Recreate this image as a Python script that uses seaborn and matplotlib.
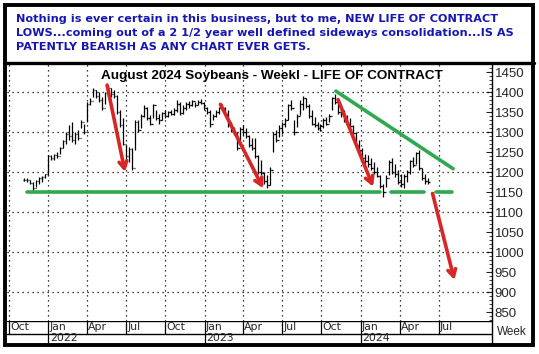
import matplotlib
matplotlib.use("Agg")
import matplotlib.pyplot as plt
import matplotlib.dates as mdates
from matplotlib.patches import Rectangle
from matplotlib.lines import Line2D
import numpy as np
import pandas as pd
import seaborn as sns

# weekly bars, Aug 2024 soybeans (cents/bu)
start_week = "2021-11-05"
highs = [1187, 1185, 1181, 1177, 1181, 1189, 1191, 1197, 1243, 1243,
         1247, 1251, 1264, 1282, 1301, 1318, 1326, 1301, 1306, 1331,
         1322, 1377, 1385, 1410, 1406, 1402, 1389, 1402, 1416, 1410,
         1407, 1393, 1356, 1335, 1268, 1264, 1260, 1331, 1331, 1347,
         1368, 1364, 1343, 1372, 1356, 1347, 1352, 1356, 1354, 1356,
         1360, 1382, 1377, 1368, 1377, 1379, 1382, 1377, 1381, 1384,
         1377, 1364, 1356, 1347, 1356, 1364, 1370, 1364, 1356, 1326,
         1314, 1301, 1314, 1318, 1310, 1293, 1285, 1285, 1243, 1231,
         1202, 1193, 1214, 1301, 1306, 1318, 1327, 1335, 1372, 1382,
         1331, 1347, 1381, 1391, 1387, 1372, 1356, 1339, 1327, 1322,
         1335, 1339, 1347, 1389, 1397, 1381, 1368, 1356, 1343, 1335,
         1318, 1301, 1281, 1260, 1247, 1243, 1235, 1227, 1214, 1193,
         1172, 1193, 1231, 1235, 1222, 1206, 1197, 1197, 1206, 1231,
         1239, 1252, 1256, 1210, 1197, 1185]
lows = [1179, 1177, 1171, 1154, 1164, 1171, 1177, 1185, 1193, 1231,
        1232, 1237, 1247, 1262, 1272, 1281, 1276, 1272, 1281, 1310,
        1297, 1326, 1368, 1389, 1387, 1377, 1356, 1372, 1391, 1389,
        1385, 1347, 1314, 1268, 1231, 1227, 1206, 1256, 1301, 1310,
        1339, 1331, 1318, 1335, 1331, 1322, 1331, 1337, 1339, 1343,
        1343, 1351, 1343, 1347, 1356, 1362, 1366, 1364, 1368, 1371,
        1357, 1347, 1314, 1332, 1339, 1346, 1356, 1343, 1314, 1301,
        1293, 1256, 1281, 1293, 1285, 1264, 1256, 1235, 1197, 1193,
        1172, 1160, 1168, 1251, 1277, 1289, 1297, 1314, 1331, 1356,
        1293, 1314, 1343, 1356, 1360, 1335, 1318, 1314, 1306, 1304,
        1310, 1318, 1327, 1356, 1372, 1347, 1339, 1327, 1318, 1310,
        1293, 1264, 1251, 1231, 1222, 1214, 1206, 1197, 1189, 1160,
        1139, 1164, 1193, 1197, 1189, 1172, 1164, 1160, 1177, 1197,
        1214, 1222, 1206, 1181, 1172, 1171]
closes = [1182, 1180, 1174, 1160, 1178, 1186, 1188, 1195, 1240, 1236,
          1244, 1240, 1260, 1278, 1295, 1290, 1280, 1296, 1286, 1325,
          1300, 1372, 1378, 1405, 1392, 1380, 1360, 1398, 1410, 1395,
          1390, 1350, 1318, 1272, 1240, 1258, 1212, 1325, 1305, 1342,
          1360, 1335, 1322, 1368, 1335, 1330, 1348, 1340, 1350, 1346,
          1355, 1372, 1348, 1362, 1372, 1368, 1378, 1368, 1376, 1374,
          1360, 1350, 1320, 1340, 1352, 1360, 1362, 1347, 1318, 1305,
          1298, 1262, 1308, 1300, 1290, 1268, 1262, 1240, 1202, 1198,
          1178, 1168, 1205, 1295, 1282, 1310, 1320, 1330, 1368, 1360,
          1300, 1340, 1372, 1385, 1366, 1340, 1322, 1318, 1310, 1315,
          1330, 1322, 1342, 1385, 1376, 1352, 1345, 1330, 1322, 1315,
          1298, 1268, 1255, 1236, 1228, 1220, 1210, 1200, 1192, 1165,
          1150, 1185, 1225, 1200, 1195, 1176, 1170, 1192, 1202, 1228,
          1218, 1248, 1210, 1185, 1178, 1175]

# annotations drawn on the chart
support_level = 1150
support_segments = [("2021-11-11", "2024-02-15"), ("2024-03-12", "2024-05-27"),
                    ("2024-06-25", "2024-08-02")]
trend_dates = ["2023-11-04", "2024-08-04"]
trend_prices = [1403, 1209]
arrow_starts = [("2022-05-18", 1418), ("2023-02-07", 1370), ("2023-11-09", 1382), ("2024-06-17", 1147)]
arrow_ends = [("2022-06-29", 1201), ("2023-05-18", 1160), ("2024-01-30", 1164), ("2024-08-07", 931)]

y_ticks = list(range(850, 1451, 50))
grid_prices = list(range(900, 1401, 100))
month_ticks = ["2021-10-01", "2022-01-01", "2022-04-01", "2022-07-01", "2022-10-01",
               "2023-01-01", "2023-04-01", "2023-07-01", "2023-10-01",
               "2024-01-01", "2024-04-01", "2024-07-01"]
month_labels = ["Oct", "Jan", "Apr", "Jul", "Oct", "Jan", "Apr", "Jul", "Oct", "Jan", "Apr", "Jul"]
year_ticks = ["2022-01-01", "2023-01-01", "2024-01-01"]
year_labels = ["2022", "2023", "2024"]

headline = ("Nothing is ever certain in this business, but to me, NEW LIFE OF CONTRACT\n"
            "LOWS...coming out of a 2 1/2 year well defined sideways consolidation...IS AS\n"
            "PATENTLY BEARISH AS ANY CHART EVER GETS.")
title = "August 2024 Soybeans - Weekl - LIFE OF CONTRACT"

sns.set_style("white")
plt.rcParams["font.family"] = ["Liberation Sans", "DejaVu Sans"]

W, H = 539, 354
fig = plt.figure(figsize=(W / 100, H / 100), dpi=100)


def fx(px):
    return px / W


def fy(py):
    return 1 - py / H


# price pane
ax = fig.add_axes([fx(7), fy(320.5), fx(492 - 7), fy(64) - fy(320.5)])
df = pd.DataFrame({"date": pd.date_range(start_week, periods=len(highs), freq="7D"),
                   "high": highs, "low": lows, "close": closes})
df["open"] = df["close"].shift(1).fillna(df["close"])
d = mdates.date2num(df["date"])
half = 3.2

ax.vlines(d, df["low"], df["high"], color="black", lw=0.9, zorder=3)
ax.hlines(df["open"], d - half, d, color="black", lw=0.9, zorder=3)
ax.hlines(df["close"], d, d + half, color="black", lw=0.9, zorder=3)

green = "#2eaa4e"
red = "#d82626"
for a, b in support_segments:
    seg = pd.DataFrame({"date": pd.to_datetime([a, b]), "price": [support_level] * 2})
    sns.lineplot(data=seg, x="date", y="price", color=green, lw=2.6, ax=ax, zorder=4)
trend = pd.DataFrame({"date": pd.to_datetime(trend_dates), "price": trend_prices})
sns.lineplot(data=trend, x="date", y="price", color=green, lw=2.6, ax=ax, zorder=4)

for (sd, sp), (ed, ep) in zip(arrow_starts, arrow_ends):
    ax.annotate("", xy=(mdates.date2num(pd.Timestamp(ed)), ep),
                xytext=(mdates.date2num(pd.Timestamp(sd)), sp),
                arrowprops=dict(arrowstyle="->,head_length=0.5,head_width=0.28",
                                color=red, lw=2.6, shrinkA=0, shrinkB=0), zorder=5)

ax.set_xlim(pd.Timestamp("2021-09-26"), pd.Timestamp("2024-11-03"))
ax.set_ylim(829.5, 1470.75)
ax.set_xlabel("")
ax.set_ylabel("")

for p in grid_prices:
    ax.axhline(p, color="black", lw=0.9, ls=(0, (1, 3)), zorder=1)
for m in month_ticks:
    ax.axvline(pd.Timestamp(m), color="black", lw=0.9, ls=(0, (1, 3)), zorder=1)

ax.yaxis.tick_right()
ax.set_yticks(y_ticks)
ax.set_yticklabels([str(v) for v in y_ticks])
ax.set_yticks(list(range(830, 1471, 10)), minor=True)
ax.tick_params(axis="y", which="major", direction="in", length=4, width=0.8,
               labelsize=9.5, pad=2, right=True, left=False)
ax.tick_params(axis="y", which="minor", direction="in", length=2, width=0.6,
               right=True, left=False)
ax.set_xticks([])
for s in ["top", "left", "bottom"]:
    ax.spines[s].set_visible(False)
ax.spines["right"].set_linewidth(1.0)
ax.spines["right"].set_color("black")

ax.text((272 - 7) / 485, 0.952, title, transform=ax.transAxes, ha="center", va="center",
        fontsize=9.7, fontweight="bold", color="black", zorder=6)

# date strip under the price pane
axd = fig.add_axes([fx(7), fy(343), fx(492 - 7), fy(320.5) - fy(343)])
axd.set_xlim(ax.get_xlim())
axd.set_ylim(0, 1)
axd.axis("off")
row = 13 / 22.5
axd.axhline(1, color="black", lw=1.0)
axd.axhline(1 - row, color="black", lw=1.0)
for m, lab in zip(month_ticks, month_labels):
    xm = mdates.date2num(pd.Timestamp(m))
    axd.plot([xm, xm], [1 - row, 1], color="black", lw=0.9)
    axd.text(xm + 3, 1 - row / 2, lab, ha="left", va="center", fontsize=7.8,
             family=["DejaVu Sans"])
for yv, lab in zip(year_ticks, year_labels):
    xm = mdates.date2num(pd.Timestamp(yv))
    axd.plot([xm, xm], [0, 1 - row], color="black", lw=0.9)
    axd.text(xm + 3, (1 - row) / 2, lab, ha="left", va="center", fontsize=7.8,
             family=["DejaVu Sans"])

fig.add_artist(Line2D([fx(492), fx(492)], [fy(320.5), fy(344)], color="black", lw=1.0))
fig.text(fx(512), fy(332), "Week", ha="center", va="center", fontsize=8.5)

# frame and headline
fig.add_artist(Rectangle((fx(5.25), fy(344.5)), fx(533 - 5.25), fy(4.5) - fy(344.5),
                         fill=False, edgecolor="black", lw=2.8, transform=fig.transFigure))
fig.add_artist(Line2D([fx(4), fx(534)], [fy(62.5), fy(62.5)], color="black", lw=2.4))
fig.text(fx(16), fy(33), headline, ha="left", va="center", fontsize=8.1,
         fontweight="bold", color="#1616b0", linespacing=1.55,
         family=["DejaVu Sans"])

fig.savefig("out.png", dpi=100)
